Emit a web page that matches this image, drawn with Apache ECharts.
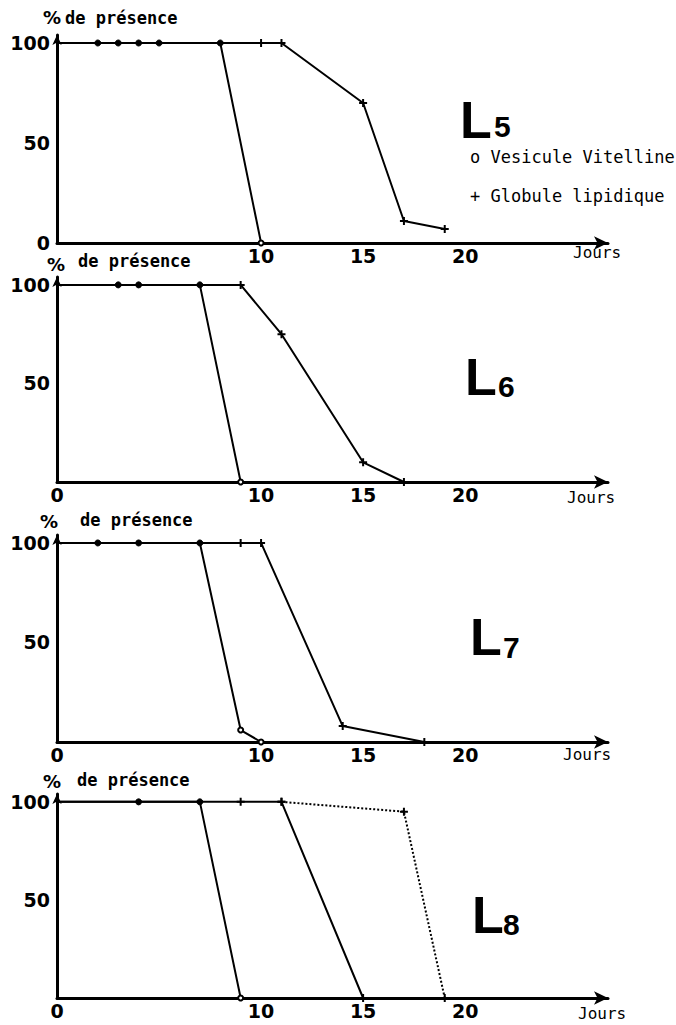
<!DOCTYPE html>
<html><head><meta charset="utf-8">
<script src="https://cdn.jsdelivr.net/npm/echarts@6/dist/echarts.min.js"></script>
<style>html,body{margin:0;padding:0;background:#fff}#c{width:676px;height:1025px}</style>
</head><body><div id="c"></div>
<script>
// ---- data ----
const panelDigits = ['5', '6', '7', '8'];
// L5
const l5VitDays = [0, 2, 3, 4, 5, 8, 10];
const l5VitPct  = [100, 100, 100, 100, 100, 100, 0];
const l5GloDays = [0, 10, 11, 15, 17, 19];
const l5GloPct  = [100, 100, 100, 70, 11, 7];
// L6
const l6VitDays = [0, 3, 4, 7, 9];
const l6VitPct  = [100, 100, 100, 100, 0];
const l6GloDays = [0, 9, 11, 15, 17];
const l6GloPct  = [100, 100, 75, 10, 0];
// L7
const l7VitDays = [0, 2, 4, 7, 9, 10];
const l7VitPct  = [100, 100, 100, 100, 6, 0];
const l7GloDays = [0, 9, 10, 14, 18];
const l7GloPct  = [100, 100, 100, 8, 0];
// L8
const l8VitDays = [0, 4, 7, 9];
const l8VitPct  = [100, 100, 100, 0];
const l8GloDays = [0, 9, 11, 15];
const l8GloPct  = [100, 100, 100, 0];
const l8GloDotDays = [11, 17, 19];
const l8GloDotPct  = [100, 95, 0];
// ticks and texts
const yTicksFirst = [0, 50, 100];
const yTicksOther = [50, 100];
const xTicksFirst = [10, 15, 20];
const xTicksOther = [0, 10, 15, 20];
const legendLabels = ['o Vesicule Vitelline', '+ Globule lipidique'];
const yTitlePct = '%';
const yTitleText = 'de présence';
const xTitle = 'Jours';

// ---- layout ----
const panels = [
  { top: 35,  height: 208, vit: [l5VitDays, l5VitPct], glo: [l5GloDays, l5GloPct], yt: yTicksFirst, xt: xTicksFirst,
    pct: [43, 17], de: [65, 18], jours: [573, 252], L: [460, 120], D: [494, 126] },
  { top: 277, height: 205, vit: [l6VitDays, l6VitPct], glo: [l6GloDays, l6GloPct], yt: yTicksOther, xt: xTicksOther,
    pct: [47, 264], de: [78, 261], jours: [567, 497], L: [465, 377], D: [498, 386] },
  { top: 535, height: 207, vit: [l7VitDays, l7VitPct], glo: [l7GloDays, l7GloPct], yt: yTicksOther, xt: xTicksOther,
    pct: [40, 521], de: [80, 520], jours: [563, 754], L: [470, 637], D: [503, 647] },
  { top: 794, height: 204, vit: [l8VitDays, l8VitPct], glo: [l8GloDays, l8GloPct], yt: yTicksOther, xt: xTicksOther,
    pct: [43, 781], de: [77, 780], jours: [578, 1013], L: [472, 915], D: [503, 924] }
];

const zip = (a, b) => a.map((d, i) => [d, b[i]]);
const plusPath = 'path://M3,0H5V3H8V5H5V8H3V5H0V3H3Z';
const tickFont = { fontFamily: 'DejaVu Sans', fontWeight: 'bold', fontSize: 19, color: '#000' };

const grids = [], xAxes = [], yAxes = [], series = [], graphics = [];
panels.forEach((p, i) => {
  grids.push({ left: 57, width: 551, top: p.top, height: p.height });
  xAxes.push({
    type: 'value', gridIndex: i, min: 0, max: 27,
    axisLine: { lineStyle: { color: '#000', width: 3 }, symbol: ['none', 'arrow'], symbolSize: [10, 14] },
    axisTick: { show: false }, splitLine: { show: false },
    axisLabel: Object.assign({ customValues: p.xt, margin: 3 }, tickFont)
  });
  yAxes.push({
    type: 'value', gridIndex: i, min: 0, max: 104,
    axisLine: { show: true, lineStyle: { color: '#000', width: 3 }, symbol: ['none', 'arrow'], symbolSize: [7, 10] },
    axisTick: { show: false }, splitLine: { show: false },
    axisLabel: Object.assign({ customValues: p.yt, margin: 7 }, tickFont)
  });
  series.push({
    name: 'Globule lipidique', type: 'line', xAxisIndex: i, yAxisIndex: i,
    data: zip(p.glo[0], p.glo[1]),
    lineStyle: { color: '#000', width: 2 }, itemStyle: { color: '#000' },
    symbol: v => v[0] === 0 ? 'none' : plusPath, symbolSize: 8, showAllSymbol: true
  });
  series.push({
    name: 'Vesicule Vitelline', type: 'line', xAxisIndex: i, yAxisIndex: i,
    data: zip(p.vit[0], p.vit[1]),
    lineStyle: { color: '#000', width: 2 }, itemStyle: { color: '#000', borderColor: '#000' },
    symbol: v => v[0] === 0 ? 'none' : (v[1] >= 100 ? 'circle' : 'emptyCircle'),
    symbolSize: v => v[1] >= 100 ? 6 : 5, showAllSymbol: true
  });
  graphics.push(
    { type: 'text', x: p.pct[0], y: p.pct[1], style: { text: yTitlePct, font: 'bold 18px "DejaVu Sans"', fill: '#000', verticalAlign: 'middle' } },
    { type: 'text', x: p.de[0], y: p.de[1], style: { text: yTitleText, font: 'bold 17px "DejaVu Sans Mono"', fill: '#000', verticalAlign: 'middle' } },
    { type: 'text', x: p.jours[0], y: p.jours[1], style: { text: xTitle, font: '16px "DejaVu Sans Mono"', fill: '#000', verticalAlign: 'middle' } },
    { type: 'text', x: p.L[0], y: p.L[1], style: { text: 'L', font: 'bold 52px "Liberation Sans"', fill: '#000', verticalAlign: 'middle' } },
    { type: 'text', x: p.D[0], y: p.D[1], style: { text: panelDigits[i], font: 'bold 30px "Liberation Sans"', fill: '#000', verticalAlign: 'middle' } }
  );
});
series.push({
  name: 'Globule lipidique (pointillé)', type: 'line', xAxisIndex: 3, yAxisIndex: 3,
  data: zip(l8GloDotDays, l8GloDotPct),
  lineStyle: { color: '#000', width: 2, type: 'dotted' }, itemStyle: { color: '#000' },
  symbol: plusPath, symbolSize: 8, showAllSymbol: true
});
graphics.push(
  { type: 'text', x: 470, y: 157, style: { text: legendLabels[0], font: '17px "DejaVu Sans Mono"', fill: '#000', verticalAlign: 'middle' } },
  { type: 'text', x: 470, y: 196, style: { text: legendLabels[1], font: '17px "DejaVu Sans Mono"', fill: '#000', verticalAlign: 'middle' } }
);

const chart = echarts.init(document.getElementById('c'), null, { renderer: 'svg' });
chart.setOption({
  animation: false,
  backgroundColor: '#fff',
  grid: grids, xAxis: xAxes, yAxis: yAxes, series: series,
  graphic: graphics
});
</script></body></html>
